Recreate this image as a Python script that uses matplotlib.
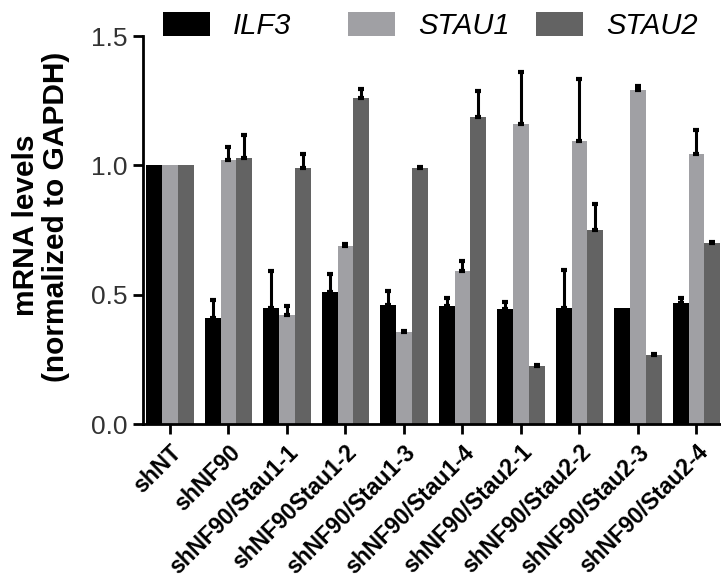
import matplotlib
matplotlib.use("Agg")
import matplotlib.pyplot as plt
import numpy as np
from matplotlib.patches import Patch

categories = ["shNT", "shNF90", "shNF90/Stau1-1", "shNF90Stau1-2", "shNF90/Stau1-3",
              "shNF90/Stau1-4", "shNF90/Stau2-1", "shNF90/Stau2-2", "shNF90/Stau2-3",
              "shNF90/Stau2-4"]
series_names = ["ILF3", "STAU1", "STAU2"]
ilf3 = [1.00, 0.41, 0.45, 0.51, 0.46, 0.456, 0.444, 0.45, 0.45, 0.466]
ilf3_err = [0.0, 0.07, 0.14, 0.07, 0.055, 0.03, 0.028, 0.147, 0.0, 0.023]
stau1 = [1.00, 1.02, 0.42, 0.687, 0.356, 0.592, 1.161, 1.094, 1.29, 1.045]
stau1_err = [0.0, 0.05, 0.035, 0.01, 0.005, 0.04, 0.20, 0.24, 0.016, 0.093]
stau2 = [1.00, 1.027, 0.988, 1.26, 0.988, 1.187, 0.224, 0.749, 0.265, 0.70]
stau2_err = [0.0, 0.09, 0.055, 0.035, 0.005, 0.10, 0.005, 0.103, 0.005, 0.005]
yticks = [0.0, 0.5, 1.0, 1.5]
ytick_labels = ["0.0", "0.5", "1.0", "1.5"]

colors = ["#000000", "#a0a0a4", "#636363"]

plt.rcParams['font.family'] = ['Liberation Sans', 'DejaVu Sans']

fig = plt.figure(figsize=(7.21, 5.85), dpi=100)
ax = fig.add_axes([143/721, 1 - 424/585, 1 - 143/721, (424 - 36)/585])

x = np.arange(len(categories))
w = 0.27
vals = [ilf3, stau1, stau2]
errs = [ilf3_err, stau1_err, stau2_err]
for i, (v, e, c) in enumerate(zip(vals, errs, colors)):
    pos = x + (i - 1) * w
    ax.bar(pos, v, width=w, color=c, edgecolor='none', zorder=2)
    v = np.array(v)
    e = np.array(e)
    m = e > 0
    ax.errorbar(pos[m], v[m], yerr=[np.zeros(m.sum()), e[m]], fmt='none', ecolor='black',
                elinewidth=2.2, capsize=2, capthick=3, zorder=3)

ax.set_xlim(-0.46, 9.42)
ax.set_ylim(0, 1.5)
ax.set_yticks(yticks)
ax.set_yticklabels(ytick_labels, fontsize=19, color='#333333')
ax.set_xticks(x)
ax.set_xticklabels(categories, rotation=45, ha='right', rotation_mode='anchor',
                   fontsize=16.5, fontweight='bold')
ax.tick_params(axis='both', direction='out', length=7, width=2)
ax.tick_params(axis='y', pad=4)
ax.tick_params(axis='x', pad=5)
for s in ['top', 'right']:
    ax.spines[s].set_visible(False)
for s in ['left', 'bottom']:
    ax.spines[s].set_linewidth(2)

fig.text(26/721, 1 - 225/585, "mRNA levels", rotation=90, ha='center', va='center',
         fontsize=21.5, fontweight='bold')
fig.text(56/721, 1 - 217/585, "(normalized to GAPDH)", rotation=90, ha='center', va='center',
         fontsize=21.5, fontweight='bold')

legend_x = [163, 348, 536]
for name, c, lx in zip(series_names, colors, legend_x):
    leg = fig.legend([Patch(facecolor=c, edgecolor='none')], [name], loc='center left',
                     bbox_to_anchor=(lx/721, 1 - 26/585), frameon=False,
                     prop={'size': 21, 'style': 'italic'}, handlelength=1.6,
                     handleheight=0.85, handletextpad=0.8,
                     borderpad=0, borderaxespad=0)

fig.savefig("out.png", dpi=100)
